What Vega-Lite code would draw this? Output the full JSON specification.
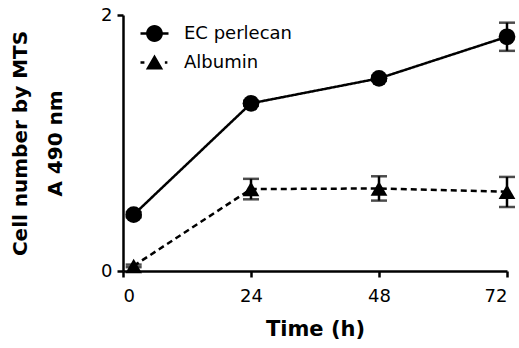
{
  "$schema": "https://vega.github.io/schema/vega-lite/v6.json",
  "width": 384,
  "height": 256,
  "autosize": "none",
  "padding": {"left": 123, "top": 15, "right": 12, "bottom": 77},
  "background": "white",
  "config": {
    "view": {"stroke": null},
    "font": "DejaVu Sans",
    "axis": {
      "grid": false,
      "domainColor": "black",
      "domainWidth": 2.5,
      "tickColor": "black",
      "tickWidth": 2.5,
      "tickSize": 6,
      "labelColor": "black",
      "labelFont": "DejaVu Sans",
      "labelFontSize": 18,
      "titleColor": "black",
      "titleFont": "DejaVu Sans",
      "titleFontWeight": "bold"
    }
  },
  "data": {
    "values": [
      {"series": "EC perlecan", "time": 2, "value": 0.44, "lo": 0.42, "hi": 0.46},
      {"series": "EC perlecan", "time": 24, "value": 1.31, "lo": 1.29, "hi": 1.33},
      {"series": "EC perlecan", "time": 48, "value": 1.505, "lo": 1.485, "hi": 1.525},
      {"series": "EC perlecan", "time": 72, "value": 1.83, "lo": 1.72, "hi": 1.94},
      {"series": "Albumin", "time": 2, "value": 0.04, "lo": 0.03, "hi": 0.05},
      {"series": "Albumin", "time": 24, "value": 0.64, "lo": 0.56, "hi": 0.72},
      {"series": "Albumin", "time": 48, "value": 0.645, "lo": 0.55, "hi": 0.74},
      {"series": "Albumin", "time": 72, "value": 0.62, "lo": 0.5, "hi": 0.735}
    ]
  },
  "encoding": {
    "x": {
      "field": "time",
      "type": "quantitative",
      "scale": {"domain": [0, 72], "nice": false},
      "axis": {
        "values": [0, 24, 48, 72],
        "title": "Time (h)",
        "titleFontSize": 21,
        "labelPadding": 10,
        "titlePadding": 13
      }
    },
    "y": {
      "field": "value",
      "type": "quantitative",
      "scale": {"domain": [0, 2], "nice": false},
      "axis": {
        "values": [0, 1, 2],
        "format": "d",
        "title": ["Cell number by MTS", "A 490 nm"],
        "titleFontSize": 20,
        "titleLineHeight": 35,
        "titleAngle": -90,
        "titleAlign": "center",
        "titleBaseline": "top",
        "titleX": -113,
        "titleY": 128,
        "labelPadding": 5
      }
    }
  },
  "resolve": {"scale": {"shape": "independent"}},
  "layer": [
    {
      "mark": {"type": "rule", "color": "black", "strokeWidth": 2.5},
      "encoding": {"y": {"field": "lo", "type": "quantitative"}, "y2": {"field": "hi"}}
    },
    {
      "mark": {"type": "tick", "orient": "horizontal", "color": "black", "size": 16, "thickness": 2.5},
      "encoding": {"y": {"field": "lo", "type": "quantitative"}}
    },
    {
      "mark": {"type": "tick", "orient": "horizontal", "color": "black", "size": 16, "thickness": 2.5},
      "encoding": {"y": {"field": "hi", "type": "quantitative"}}
    },
    {
      "mark": {"type": "line", "color": "black", "strokeWidth": 2.5},
      "encoding": {
        "strokeDash": {
          "field": "series",
          "type": "nominal",
          "scale": {"range": [[6, 4], [1, 0]]},
          "legend": null
        }
      }
    },
    {
      "mark": {"type": "point", "filled": true, "color": "black", "opacity": 1, "size": 280},
      "encoding": {
        "shape": {
          "field": "series",
          "type": "nominal",
          "scale": {"domain": ["EC perlecan", "Albumin"], "range": ["circle", "triangle-up"]},
          "legend": null
        }
      }
    },
    {
      "transform": [{"filter": "false"}],
      "mark": {"type": "point", "filled": true, "fill": "black", "stroke": "black", "strokeWidth": 2.5, "opacity": 1},
      "encoding": {
        "shape": {
          "field": "series",
          "type": "nominal",
          "scale": {
            "domain": ["EC perlecan", "Albumin"],
            "range": [
              "M-1,-0.09 L1,-0.09 L1,0.09 L-1,0.09 Z M-0.6,0 A0.6,0.6 0 1,1 0.6,0 A0.6,0.6 0 1,1 -0.6,0 Z",
              "M-1,-0.09 L-0.72,-0.09 L-0.72,0.09 L-1,0.09 Z M0.74,-0.09 L0.92,-0.09 L0.92,0.09 L0.74,0.09 Z M0,-0.58 L0.62,0.5 L-0.62,0.5 Z"
            ]
          },
          "legend": {
            "title": null,
            "orient": "none",
            "legendX": 16,
            "legendY": 3,
            "symbolSize": 784,
            "symbolFillColor": "black",
            "symbolStrokeColor": "black",
            "symbolStrokeWidth": 2.5,
            "symbolOpacity": 1,
            "rowPadding": -3,
            "labelOffset": 14,
            "labelFont": "DejaVu Sans",
            "labelFontSize": 18,
            "labelColor": "black"
          }
        }
      }
    }
  ]
}
